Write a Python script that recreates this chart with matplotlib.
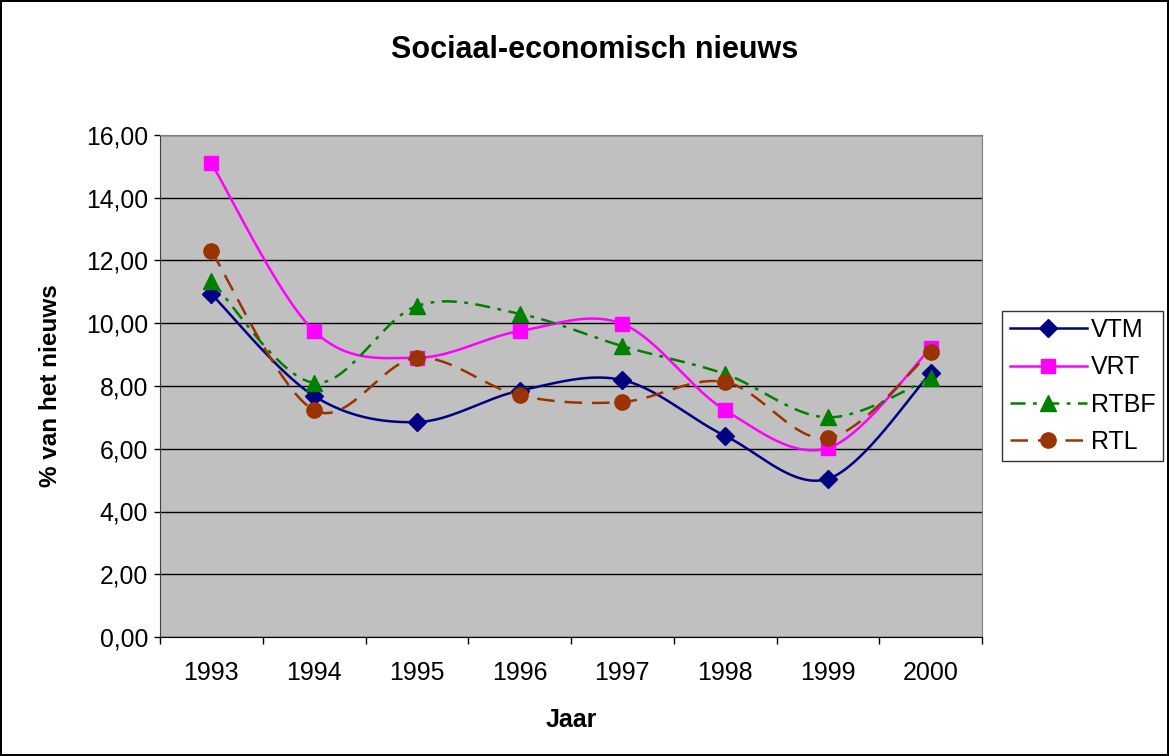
import numpy as np
import matplotlib.pyplot as plt
from matplotlib.ticker import FuncFormatter, FixedLocator

plt.rcParams['font.family'] = ['Liberation Sans', 'DejaVu Sans']

jaren = ["1993", "1994", "1995", "1996", "1997", "1998", "1999", "2000"]
vtm = [10.93, 7.68, 6.85, 7.85, 8.19, 6.41, 5.04, 8.41]
vrt = [15.10, 9.75, 8.90, 9.75, 9.98, 7.23, 6.02, 9.20]
rtbf = [11.35, 8.10, 10.55, 10.30, 9.27, 8.38, 7.00, 8.25]
rtl = [12.30, 7.23, 8.90, 7.70, 7.49, 8.13, 6.34, 9.08]


def smooth(x, y, n=40):
    # Excel-achtige smoothing: Catmull-Rom door elk punt
    x = np.asarray(x, float)
    y = np.asarray(y, float)
    px = np.concatenate([[x[0]], x, [x[-1]]])
    py = np.concatenate([[y[0]], y, [y[-1]]])
    xs, ys = [], []
    t = np.linspace(0, 1, n)
    for i in range(1, len(px) - 2):
        p0, p1, p2, p3 = px[i - 1], px[i], px[i + 1], px[i + 2]
        q0, q1, q2, q3 = py[i - 1], py[i], py[i + 1], py[i + 2]
        c1x, c2x = p1 + (p2 - p0) / 6, p2 - (p3 - p1) / 6
        c1y, c2y = q1 + (q2 - q0) / 6, q2 - (q3 - q1) / 6
        b0, b1, b2, b3 = (1 - t) ** 3, 3 * (1 - t) ** 2 * t, 3 * (1 - t) * t ** 2, t ** 3
        xs.append(b0 * p1 + b1 * c1x + b2 * c2x + b3 * p2)
        ys.append(b0 * q1 + b1 * c1y + b2 * c2y + b3 * q2)
    return np.concatenate(xs), np.concatenate(ys)


fig = plt.figure(figsize=(11.69, 7.56), dpi=100)
fig.patch.set_edgecolor("black")
fig.patch.set_linewidth(1.5)
ax = fig.add_axes([160 / 1169, 1 - 637 / 756, 822 / 1169, 502 / 756])
ax.set_facecolor("#C0C0C0")

x = np.arange(len(jaren))
reeksen = [
    ("VTM", vtm, "#000080", "-", "D", 9),
    ("VRT", vrt, "#FF00FF", "-", "s", 10),
    ("RTBF", rtbf, "#008000", (0, (6, 3, 1.5, 3)), "^", 11),
    ("RTL", rtl, "#993300", (0, (7, 4)), "o", 11),
]
for naam, vals, kleur, ls, mk, ms in reeksen:
    sx, sy = smooth(x, vals)
    ax.plot(sx, sy, color=kleur, ls=ls, lw=1.8, zorder=3)
    ax.plot(x, vals, ls="none", marker=mk, ms=ms, color=kleur, zorder=4)
    ax.plot([], [], color=kleur, ls=ls, lw=1.8, marker=mk, ms=ms, label=naam)

ax.set_xlim(-0.5, len(jaren) - 0.5)
ax.set_ylim(0, 16)
ax.set_yticks(np.arange(0, 17, 2))
ax.yaxis.set_major_formatter(FuncFormatter(lambda v, p: f"{v:.2f}".replace(".", ",")))
ax.grid(axis="y", color="black", lw=1)
ax.set_axisbelow(True)

ax.xaxis.set_major_locator(FixedLocator(np.arange(-0.5, len(jaren), 1)))
ax.xaxis.set_minor_locator(FixedLocator(x))
ax.set_xticklabels([], minor=False)
ax.set_xticklabels(jaren, minor=True)
ax.tick_params(axis="x", which="major", direction="out", length=5, width=1)
ax.tick_params(axis="x", which="minor", length=0, pad=17, labelsize=18)
ax.tick_params(axis="y", direction="out", length=4.5, width=1, labelsize=17.8, pad=4)

for s in ["top", "right"]:
    ax.spines[s].set_color("#808080")
ax.spines["left"].set_color("#404040")
ax.spines["bottom"].set_color("black")

ax.set_xlabel("Jaar", fontsize=18, fontweight="bold", labelpad=17)
ax.set_ylabel("% van het nieuws", fontsize=17.5, fontweight="bold", labelpad=17)
fig.text(595 / 1169, 1 - 50 / 756, "Sociaal-economisch nieuws", ha="center", va="center",
         fontsize=22, fontweight="bold")

leg = ax.legend(loc="center left", bbox_to_anchor=(1002 / 1169, 1 - 386 / 756),
                bbox_transform=fig.transFigure, fontsize=18, frameon=True, fancybox=False,
                edgecolor="black", handlelength=3.1, borderpad=0.3, labelspacing=0.53,
                handletextpad=0.15, borderaxespad=0)
leg.get_frame().set_linewidth(1)

fig.savefig("out.png", dpi=100, edgecolor=fig.get_edgecolor())
